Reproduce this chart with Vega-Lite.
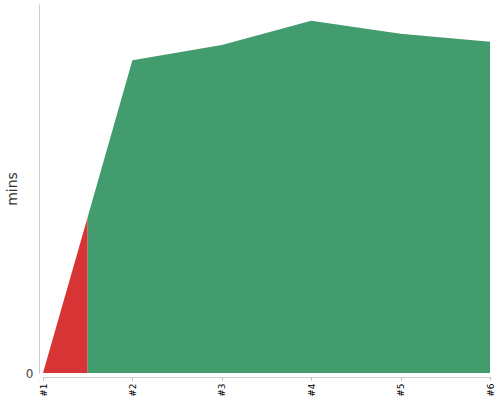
{
  "$schema": "https://vega.github.io/schema/vega-lite/v6.json",
  "width": 447,
  "height": 369,
  "autosize": {"type": "none"},
  "padding": {"left": 43, "top": 4, "right": 10, "bottom": 27},
  "config": {
    "view": {"stroke": null},
    "font": "DejaVu Sans"
  },
  "data": {
    "values": [
      {"run": 1, "mins": 0, "part": "red"},
      {"run": 1.5, "mins": 156, "part": "red"},
      {"run": 1.5, "mins": 156, "part": "green"},
      {"run": 2, "mins": 312.7, "part": "green"},
      {"run": 3, "mins": 328, "part": "green"},
      {"run": 4, "mins": 352.3, "part": "green"},
      {"run": 5, "mins": 339.3, "part": "green"},
      {"run": 6, "mins": 331.3, "part": "green"}
    ]
  },
  "mark": {"type": "area", "interpolate": "linear", "opacity": 1},
  "encoding": {
    "x": {
      "field": "run",
      "type": "quantitative",
      "scale": {"domain": [1, 6], "nice": false, "zero": false},
      "axis": {
        "values": [1, 2, 3, 4, 5, 6],
        "labelExpr": "'#' + datum.value",
        "labelAngle": -90,
        "labelFontSize": 9,
        "labelColor": "#000",
        "labelPadding": 3,
        "tickSize": 3,
        "tickColor": "#bbb",
        "domainColor": "#ccc",
        "grid": false,
        "title": null,
        "offset": 4
      }
    },
    "y": {
      "field": "mins",
      "type": "quantitative",
      "stack": null,
      "scale": {"domain": [0, 369], "nice": false},
      "axis": {
        "values": [0],
        "tickSize": 0,
        "labelPadding": 6,
        "labelFontSize": 12,
        "labelColor": "#444",
        "domainColor": "#ccc",
        "grid": false,
        "title": "mins",
        "titleFontSize": 14,
        "titleFontWeight": "normal",
        "titleColor": "#333",
        "titlePadding": 6,
        "offset": 4
      }
    },
    "color": {
      "field": "part",
      "type": "nominal",
      "scale": {"domain": ["red", "green"], "range": ["#d73535", "#439c6d"]},
      "legend": null
    }
  }
}
